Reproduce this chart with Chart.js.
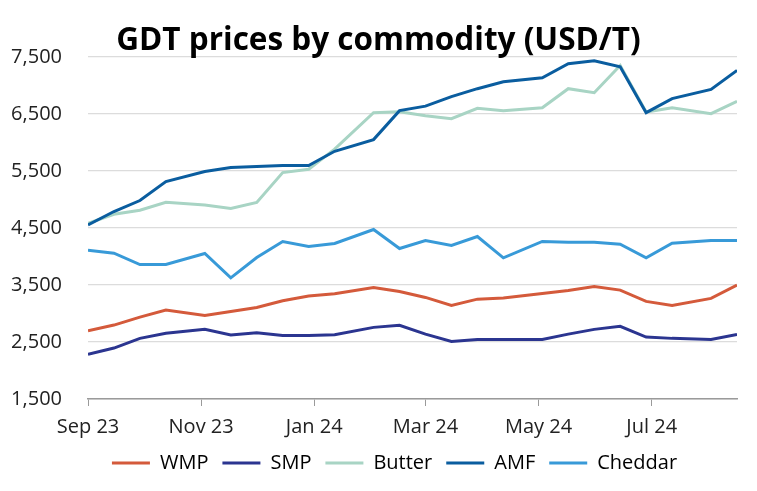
<!DOCTYPE html>
<html>
<head>
<meta charset="utf-8">
<script src="https://cdn.jsdelivr.net/npm/chart.js@4.4.1/dist/chart.umd.min.js"></script>
<style>
  html, body { margin: 0; padding: 0; background: #fff; }
  #wrap { width: 757px; height: 491px; }
</style>
</head>
<body>
<div id="wrap"><canvas id="gdt-chart"></canvas></div>
<script>
// GDT auction dates (twice monthly)
const auctionDates = [
    "2023-09-05", "2023-09-19", "2023-10-03", "2023-10-17", "2023-11-07", "2023-11-21",
    "2023-12-05", "2023-12-19", "2024-01-02", "2024-01-16", "2024-02-06", "2024-02-20",
    "2024-03-05", "2024-03-19", "2024-04-02", "2024-04-16", "2024-05-07", "2024-05-21",
    "2024-06-04", "2024-06-18", "2024-07-02", "2024-07-16", "2024-08-06", "2024-08-20",
];

const wmp = [2696, 2796, 2936, 3059, 2966, 3036, 3106, 3222, 3304, 3345, 3456, 3386,
    3281, 3141, 3251, 3269, 3351, 3404, 3474, 3409, 3211, 3141, 3264, 3497];
const smp = [2282, 2393, 2563, 2651, 2721, 2621, 2662, 2615, 2615, 2627, 2756, 2791,
    2638, 2510, 2545, 2545, 2545, 2638, 2721, 2774, 2586, 2563, 2545, 2633];
const butter = [4582, 4740, 4810, 4950, 4903, 4840, 4945, 5470, 5528, 5880, 6521, 6538,
    6465, 6416, 6596, 6556, 6608, 6941, 6871, 7349, 6532, 6608, 6503, 6719];
const amf = [4552, 4787, 4980, 5313, 5488, 5558, 5575, 5593, 5593, 5843, 6048, 6556,
    6635, 6801, 6941, 7063, 7133, 7378, 7431, 7326, 6521, 6766, 6929, 7262];
const cheddar = [4109, 4057, 3858, 3858, 4051, 3624, 3981, 4262, 4174, 4227, 4472, 4139,
    4279, 4192, 4349, 3975, 4262, 4250, 4250, 4215, 3975, 4232, 4279, 4279];

const tickDates = ["2023-09-05", "2023-11-05", "2024-01-05", "2024-03-05", "2024-05-05", "2024-07-05"];
const tickLabels = ["Sep 23", "Nov 23", "Jan 24", "Mar 24", "May 24", "Jul 24"];

const dayNum = (s) => Date.parse(s + "T00:00:00Z") / 86400000;
const startDay = dayNum(auctionDates[0]);
const toPoints = (vals) => vals.map((v, i) => ({ x: dayNum(auctionDates[i]) - startDay, y: v }));

const font = "'Open Sans', Lato, sans-serif";

const series = [
    { label: "WMP", data: wmp, color: "#d45a3b", order: 5 },
    { label: "SMP", data: smp, color: "#2b3590", order: 4 },
    { label: "Butter", data: butter, color: "#a8d4c4", order: 3 },
    { label: "AMF", data: amf, color: "#0a5d9f", order: 2 },
    { label: "Cheddar", data: cheddar, color: "#389ad8", order: 1 },
];

const gdtData = {
    datasets: series.map((s) => ({
        label: s.label,
        data: toPoints(s.data),
        borderColor: s.color,
        backgroundColor: s.color,
        borderWidth: 3,
        pointRadius: 0,
        tension: 0,
        order: s.order,
    })),
};

// legend and title sit a bit off centre in the original
const nudgeBoxes = {
    id: "nudgeBoxes",
    afterLayout(chart) {
        chart.legend.left += 21;
        chart.legend.right += 21;
        chart.titleBlock.left += 5;
        chart.titleBlock.right += 5;
        chart.titleBlock.top += 3;
        chart.titleBlock.bottom += 3;
    },
};

const gdtConfig = {
    type: "line",
    data: gdtData,
    plugins: [nudgeBoxes],
    options: {
        responsive: true,
        maintainAspectRatio: false,
        animation: false,
        layout: { padding: { top: 16, left: 10, right: 20, bottom: 8 } },
        plugins: {
            title: {
                display: true,
                text: "GDT prices by commodity (USD/T)",
                color: "#000",
                font: { family: font, size: 31.5, weight: "bold" },
                padding: { top: 3, bottom: 0 },
            },
            legend: {
                position: "bottom",
                labels: {
                    color: "#222",
                    font: { family: font, size: 20 },
                    boxWidth: 38,
                    boxHeight: 3,
                    padding: 14,
                    generateLabels: (chart) => chart.data.datasets.map((ds, i) => ({
                        text: ds.label,
                        fillStyle: ds.borderColor,
                        strokeStyle: ds.borderColor,
                        lineWidth: 0,
                        hidden: false,
                        datasetIndex: i,
                    })),
                },
            },
            tooltip: { enabled: false },
        },
        scales: {
            x: {
                type: "linear",
                min: 0,
                max: dayNum(auctionDates[auctionDates.length - 1]) - startDay,
                afterBuildTicks: (axis) => {
                    axis.ticks = tickDates.map((d) => ({ value: dayNum(d) - startDay }));
                },
                afterFit: (axis) => { axis.height = 40; },
                ticks: {
                    color: "#222",
                    font: { family: font, size: 20 },
                    padding: 9,
                    maxRotation: 0,
                    autoSkip: false,
                    callback: (v, i) => tickLabels[i],
                },
                grid: { drawOnChartArea: false, tickLength: 7, color: "#9a9a9a" },
                border: { color: "#9a9a9a", width: 1.5 },
            },
            y: {
                min: 1500,
                max: 7500,
                afterFit: (axis) => { axis.width = 78; },
                ticks: {
                    stepSize: 1000,
                    color: "#222",
                    font: { family: font, size: 20 },
                    padding: 26,
                    callback: (v) => v.toLocaleString("en-US"),
                },
                grid: { color: "#dcdcdc", drawTicks: false, lineWidth: 1.2 },
                border: { display: false },
            },
        },
    },
};

const gdtChart = new Chart(document.getElementById("gdt-chart"), gdtConfig);
</script>
</body>
</html>
